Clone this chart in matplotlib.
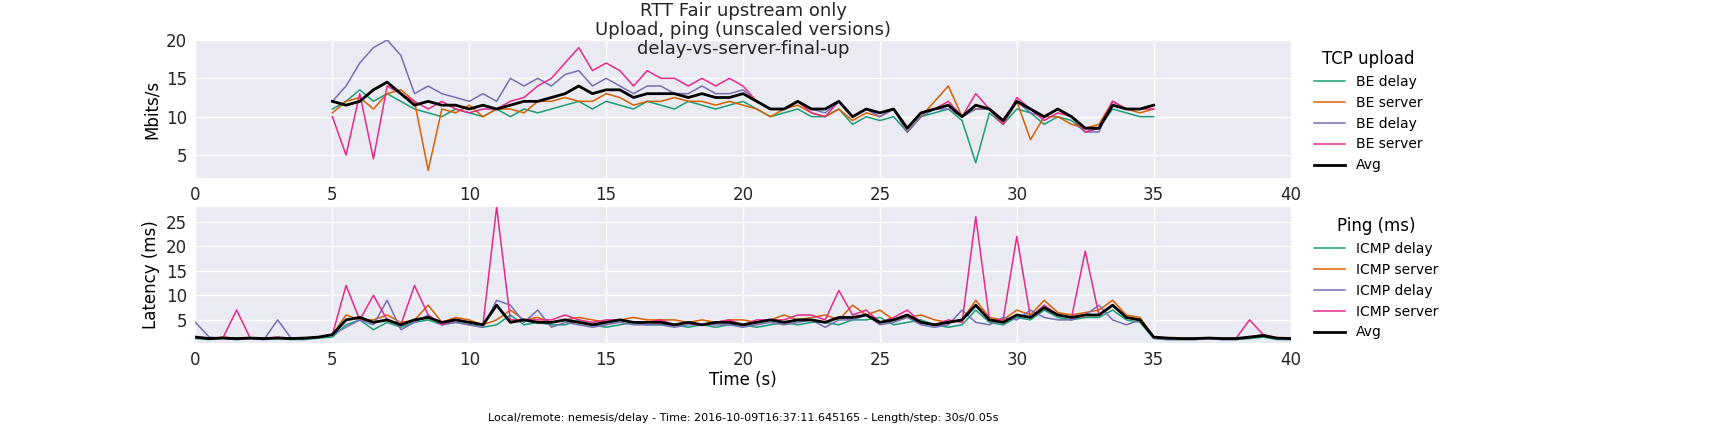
import numpy as np
import matplotlib
matplotlib.use("Agg")
import matplotlib.pyplot as plt

colors = ["#1b9e77", "#d95f02", "#7570b3", "#e7298a"]
up_labels = ["BE delay", "BE server", "BE delay", "BE server"]
ping_labels = ["ICMP delay", "ICMP server", "ICMP delay", "ICMP server"]

up_green = [11,12,13.5,12,13,12,11,10.5,10,11,10.5,10,11,10,11,10.5,11,11.5,12,11,12,11.5,11,12,11.5,11,12,11.5,11,11.5,12,11,10,10.5,11,10,10,11,9,10,9.5,10,8,10,10.5,11,9.5,4,10.5,9,11,10.5,9,10,9.5,8,8.5,11,10.5,10,10]
up_orange = [10.5,12,12.5,11,13,13.5,12,3,11,10.5,11.5,10,11,11,10.5,12,12,12.5,12,12,13,12.5,11.5,12,12,12.5,12,12,11.5,12,11.5,11,10,11,11.5,10.5,10,11,9.5,10.5,10,11,8,10,12,14,10,11,11,9,12,7,10,10,9,8.5,9,12,11,10.5,11]
up_purple = [12,14,17,19,20,18,13,14,13,12.5,12,13,12,15,14,15,14,15.5,16,14,15,14,13,14,14,13,13,14,13,13,13.5,12,11,11,12,11,10.5,12,10,11,10,11,8,10,11,11,10,11,11,9,12,10.5,10,11,10,8,8,12,11,11,11.5]
up_pink = [10,5,13,4.5,14,13,12,11,12,11,10.5,11,11,12,12.5,14,15,17,19,16,17,16,14,16,15,15,14,15,14,15,14,12,11,11,12,10.5,10,12,10,11,10.5,11,8.5,10.5,11,12,10,13,11,9,12.5,11,9.5,10.5,10,8,8.5,12,11,11,11]
up_avg = [12,11.5,12,13.5,14.5,13,11.5,12,11.5,11.5,11,11.5,11,11.5,12,12,12.5,13,14,13,13.5,13.5,12.5,13,13,13,12.5,13,12.5,12.5,13,12,11,11,12,11,11,12,10,11,10.5,11,8.5,10.5,11,11.5,10,11.5,11,9.5,12,11,10,11,10,8.5,8.5,11.5,11,11,11.5]

p_green = [1.2,1,1.3,1,1.2,1,1.2,1,1,1.3,1.5,4,5,3,4.5,3.5,4.5,5,4,4.5,4,3.5,4,6,4,4.5,4,4,5,4,3.5,4,4.5,4,4,4,3.5,4,3.5,4,4,3.5,4,4.5,4,4.5,4.5,4,5,5,5.5,4,4.5,5,4,3.5,4,7,4.5,4,5.5,5,7,5.5,5,5.5,5.5,7,5,4.5,1.2,1,1,1,1.2,1,1,1.2,1.5,1,1]
p_orange = [1.3,1.2,1.5,1.2,1.3,1.2,1.3,1.2,1.3,1.5,2,6,5,5,6,4.5,5,8,4.5,5.5,5,4,5,7,5,5.5,4.5,5,5.5,5,4.5,5,5.5,5,5,5,4.5,5,4.5,5,5,4.5,5,6,5,5.5,6,5,8,6,7,5,5.5,6,5,4.5,5,9,5.5,5,7,6,9,6.5,6,6.5,7,9,6,5.5,1.5,1.3,1.2,1.2,1.4,1.2,1.2,1.5,2,1.3,1.2]
p_purple = [4.5,1.5,1.2,1,1.2,1,5,1.2,1.3,1.5,2,3.5,5,4,9,3,4.5,6,4,4.5,4,3.5,9,8,4.5,7,3.5,4.5,4,3.5,4,4.5,4,4,4,3.5,4,4,4,4,3.5,4,4.5,4,4.5,5,3.5,5,5,6,4,4.5,5.5,4,3.5,4,7,4.5,4,5.5,5,7,5.5,5,5,6,8,5,4,5,1.3,1,1,1,1.2,1,1,1.3,2,1.2,1]
p_pink = [1.5,1.2,1.3,7,1.3,1.2,1.5,1.2,1.3,1.5,2,12,5,10,5,4,12,6,4,5,4.5,4,28,5,5,5,5,6,5,4.5,5,5,4.5,4.5,5,4,4.5,4,4.5,5,4,5,5,5,6,6,5,11,6,7,4.5,5.5,7,4.5,4,5,4.5,26,5,5,22,5.5,8,6,5.5,19,6,8,5.5,5,1.5,1.3,1.2,1.2,1.3,1.2,1.2,5,2,1.3,1.2]
p_avg = [1.5,1.2,1.3,1.2,1.3,1.2,1.3,1.2,1.3,1.5,2,5,5.5,4.5,5,4,5,5.5,4.5,5,4.5,4,8,4.5,5,4.5,4.5,5,4.5,4,4.5,5,4.5,4.5,4.5,4,4.5,4,4.5,4.5,4,4.5,5,4.5,5,5,4.5,5.5,5.5,6,4.5,5,6,4.5,4,4.5,5,8,5,4.5,6,5.5,7.5,6,5.5,6,6,8,5.5,5,1.5,1.3,1.2,1.2,1.3,1.2,1.2,1.5,1.8,1.3,1.2]

bg = "#EAEAF2"
fig = plt.figure(figsize=(17.3, 4.25), dpi=100)
ax1 = fig.add_axes([0.113, 0.581, 0.633, 0.325], facecolor=bg)
ax2 = fig.add_axes([0.113, 0.193, 0.633, 0.320], facecolor=bg)

for s, c, l in zip([up_green, up_orange, up_purple, up_pink], colors, up_labels):
    ax1.plot(5 + 0.5*np.arange(len(s)), s, color=c, lw=1.1, label=l)
ax1.plot(5 + 0.5*np.arange(len(up_avg)), up_avg, color="black", lw=2, label="Avg")
for s, c, l in zip([p_green, p_orange, p_purple, p_pink], colors, ping_labels):
    ax2.plot(0.5*np.arange(len(s)), s, color=c, lw=1.1, label=l)
ax2.plot(0.5*np.arange(len(p_avg)), p_avg, color="black", lw=2, label="Avg")

for ax in (ax1, ax2):
    ax.set_xlim(0, 40)
    ax.grid(True, color="white", lw=1)
    ax.set_axisbelow(True)
    for sp in ax.spines.values():
        sp.set_visible(False)
    ax.tick_params(length=0, labelsize=12, colors="#262626", pad=6)
ax1.set_ylim(2, 20)
ax1.set_yticks([5, 10, 15, 20])
ax2.set_ylim(0.3, 28)
ax2.set_yticks([5, 10, 15, 20, 25])
ax1.set_ylabel("Mbits/s", fontsize=12)
ax2.set_ylabel("Latency (ms)", fontsize=12)
ax2.set_xlabel("Time (s)", fontsize=12, labelpad=1)

for ax, t in ((ax1, "TCP upload"), (ax2, "Ping (ms)")):
    ax.legend(loc="upper left", bbox_to_anchor=(1.01, 1.02), frameon=False,
              title=t, fontsize=10, title_fontsize=12, handlelength=2.2)

fig.text(0.4295, 0.995, "RTT Fair upstream only\nUpload, ping (unscaled versions)\ndelay-vs-server-final-up",
         ha="center", va="top", fontsize=13, color="#262626", linespacing=1.05)
fig.text(0.4295, 0.005, "Local/remote: nemesis/delay - Time: 2016-10-09T16:37:11.645165 - Length/step: 30s/0.05s",
         ha="center", va="bottom", fontsize=8)
fig.savefig("out.png", dpi=100)
